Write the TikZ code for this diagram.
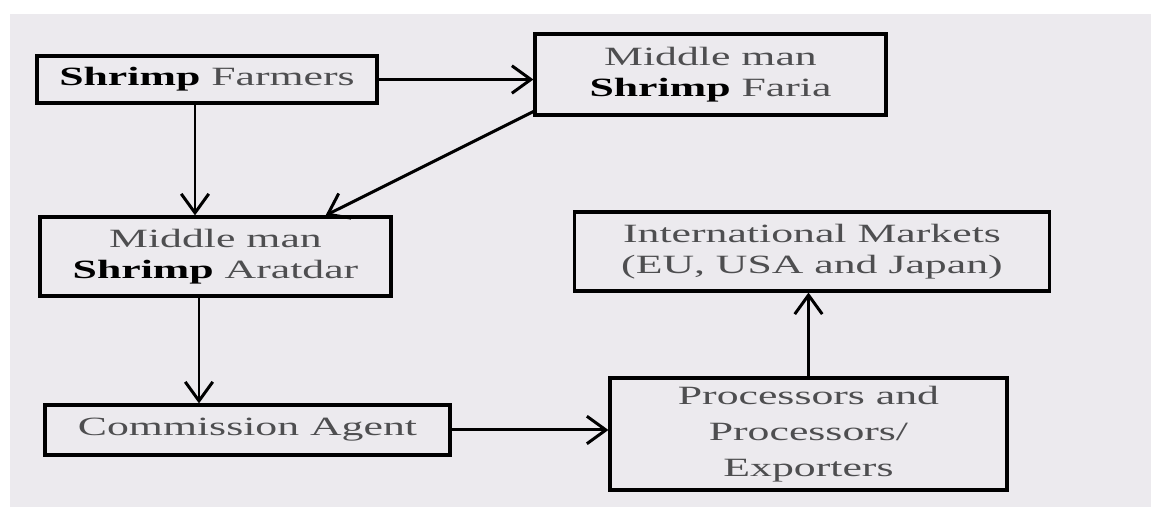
\documentclass[tikz,border=0pt]{standalone}
\usepackage{fontspec}
\setmainfont{Liberation Serif}[FakeStretch=1.66]
\usetikzlibrary{calc,arrows.meta}

\definecolor{paper}{RGB}{236,234,238}
\definecolor{ink}{RGB}{78,78,80}

\begin{document}
\begin{tikzpicture}[x=1cm,y=1cm]

% styles
\tikzset{
  box/.style={draw=black, line width=1.8pt, inner sep=0pt, align=center,
    text=ink, font=\fontsize{15}{18}\selectfont},
  arr/.style={line width=1.7pt, -{Straight Barb[length=3.8mm,width=5.5mm,line width=1.7pt]}}
}
\newcommand{\shr}{{\color{black}\bfseries Shrimp}}

% ===== background =====
\useasboundingbox (0,0) rectangle (23.02,10.14);
\fill[paper] (0.2,0) rectangle (23.02,9.86);

% ===== boxes =====
\node[box, minimum width=6.80cm, minimum height=0.94cm] (farmers) at (4.14,8.55) {\shr{} Farmers};
\node[box, minimum width=7.02cm, minimum height=1.62cm] (faria) at (14.21,8.65) {Middle man\\\shr{} Faria};
\node[box, minimum width=7.02cm, minimum height=1.58cm] (aratdar) at (4.31,5.01) {Middle man\\\shr{} Aratdar};
\node[box, minimum width=9.50cm, minimum height=1.58cm] (intl) at (16.24,5.11) {International Markets\\(EU, USA and Japan)};
\node[box, minimum width=8.10cm, minimum height=1.00cm] (agent) at (4.95,1.54) {Commission Agent};
\node[box, minimum width=7.94cm, minimum height=2.24cm, font=\fontsize{15}{20.5}\selectfont] (proc) at (16.17,1.46) {Processors and\\Processors/\\Exporters};

% ===== arrows =====
\draw[arr] (farmers.east) -- (farmers.east -| faria.west);
\draw[arr] ([xshift=-0.24cm]farmers.south) -- ([xshift=-0.24cm]farmers.south |- aratdar.north);
\draw[arr] ([yshift=0.1cm]faria.south west) -- ([xshift=-1.34cm]aratdar.north east);
\draw[arr] ([xshift=-0.33cm]aratdar.south) -- ([xshift=-0.33cm]aratdar.south |- agent.north);
\draw[arr] (agent.east) -- (agent.east -| proc.west);
\draw[arr] (proc.north) -- (proc.north |- intl.south);

\end{tikzpicture}
\end{document}
